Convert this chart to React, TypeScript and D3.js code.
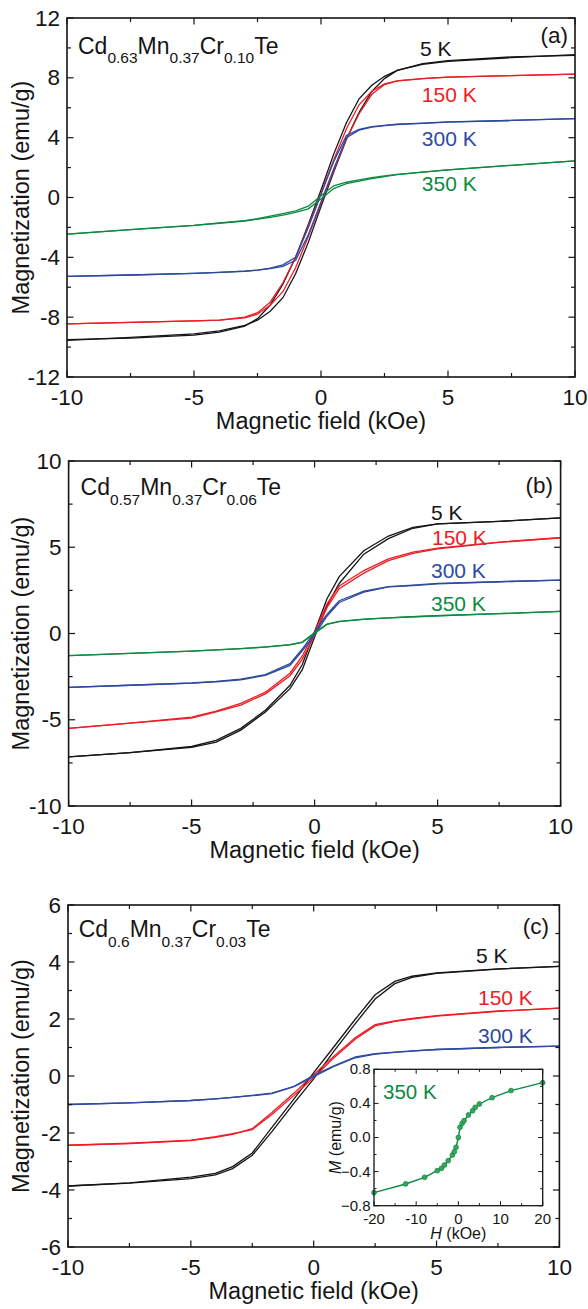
import React from 'react';
import * as d3 from 'd3';

const FONT = '"Liberation Sans", Arial, Helvetica, sans-serif';
const BLACK = '#151515';
const RED = '#ee1c25';
const BLUE = '#2c4aa0';
const GREEN = '#0b8a40';

const tempLabels = ['5 K', '150 K', '300 K', '350 K'];
const xTicks = [-10, -5, 0, 5, 10];
const xMinor = [-7.5, -2.5, 2.5, 7.5];

// (a) Cd0.63Mn0.37Cr0.10Te, field swept from +10 down to -10 kOe
const fieldA = [10, 7.5, 5, 4, 3, 2.5, 2, 1.5, 1, 0.5, 0, -0.5, -1, -1.5, -2, -2.5, -3, -4, -5, -7.5, -10];
const a5Up = [9.55, 9.35, 9.1, 8.9, 8.5, 8.1, 7.5, 6.6, 5.0, 2.9, 0.5, -1.8, -4.0, -5.8, -7.2, -8.1, -8.6, -9.0, -9.2, -9.4, -9.5];
const a5Down = [-9.55, -9.35, -9.12, -8.92, -8.55, -8.2, -7.6, -6.7, -5.1, -3.0, -0.6, 1.7, 3.9, 5.7, 7.1, 7.95, 8.5, 8.95, 9.15, 9.4, 9.5];
const a150Up = [8.25, 8.15, 8.05, 7.95, 7.8, 7.6, 7.1, 6.2, 4.6, 2.5, 0.3, -1.9, -4.0, -5.7, -7.0, -7.7, -8.0, -8.2, -8.25, -8.35, -8.45];
const a150Down = [-8.45, -8.35, -8.25, -8.2, -8.05, -7.8, -7.2, -6.3, -4.7, -2.6, -0.4, 1.8, 3.9, 5.6, 6.9, 7.55, 7.8, 7.95, 8.05, 8.15, 8.25];
const a300Up = [5.27, 5.15, 5.05, 4.97, 4.9, 4.82, 4.74, 4.55, 4.15, 2.4, 0.2, -2.0, -4.0, -4.5, -4.72, -4.85, -4.92, -5.0, -5.07, -5.18, -5.27];
const a300Down = [-5.27, -5.18, -5.07, -5.0, -4.93, -4.86, -4.76, -4.6, -4.2, -2.5, -0.3, 1.9, 4.0, 4.5, 4.7, 4.8, 4.88, 4.96, 5.04, 5.15, 5.27];
const a350Up = [2.45, 2.15, 1.85, 1.7, 1.55, 1.45, 1.33, 1.18, 1.02, 0.78, 0.12, -0.58, -0.9, -1.08, -1.25, -1.42, -1.55, -1.7, -1.87, -2.15, -2.45];
const a350Down = [-2.45, -2.15, -1.87, -1.72, -1.57, -1.45, -1.33, -1.18, -1.0, -0.76, -0.1, 0.6, 0.92, 1.1, 1.26, 1.4, 1.53, 1.7, 1.85, 2.15, 2.45];

// (b) Cd0.57Mn0.37Cr0.06Te
const fieldB = [10, 7.5, 5, 4, 3, 2, 1, 0.5, 0, -0.5, -1, -2, -3, -4, -5, -7.5, -10];
const b5Up = [6.7, 6.5, 6.35, 6.15, 5.65, 4.8, 3.3, 2.0, 0.1, -1.8, -3.0, -4.45, -5.5, -6.2, -6.55, -6.9, -7.15];
const b5Down = [-7.15, -6.9, -6.6, -6.3, -5.6, -4.55, -3.2, -2.1, -0.2, 1.6, 2.9, 4.6, 5.5, 6.1, 6.35, 6.5, 6.7];
const b150Up = [5.55, 5.3, 4.95, 4.72, 4.32, 3.65, 2.75, 1.7, 0.1, -1.3, -2.3, -3.4, -4.05, -4.5, -4.85, -5.2, -5.5];
const b150Down = [-5.5, -5.2, -4.9, -4.55, -4.15, -3.5, -2.45, -1.5, -0.1, 1.5, 2.6, 3.5, 4.22, 4.65, 4.9, 5.28, 5.55];
const b300Up = [3.1, 3.0, 2.9, 2.8, 2.72, 2.45, 1.9, 1.1, 0.1, -0.9, -1.75, -2.38, -2.65, -2.78, -2.87, -3.0, -3.12];
const b300Down = [-3.12, -3.0, -2.88, -2.8, -2.68, -2.43, -1.85, -1.0, -0.1, 1.0, 1.8, 2.4, 2.7, 2.78, 2.88, 3.0, 3.1];
const b350Up = [1.28, 1.15, 1.03, 0.97, 0.9, 0.83, 0.7, 0.55, 0.05, -0.5, -0.65, -0.78, -0.88, -0.95, -1.02, -1.15, -1.28];
const b350Down = [-1.28, -1.15, -1.02, -0.95, -0.88, -0.79, -0.66, -0.52, 0.0, 0.53, 0.69, 0.82, 0.9, 0.97, 1.03, 1.15, 1.28];

// (c) Cd0.6Mn0.37Cr0.03Te
const fieldC = [10, 7.5, 5, 4, 3.3, 2.5, 1.7, 0.8, 0, -0.8, -1.7, -2.5, -3.3, -4, -5, -7.5, -10];
const c5Up = [3.85, 3.76, 3.62, 3.5, 3.32, 2.85, 2.0, 1.0, 0.12, -0.8, -1.8, -2.7, -3.18, -3.42, -3.55, -3.75, -3.86];
const c5Down = [-3.86, -3.76, -3.6, -3.47, -3.25, -2.78, -1.95, -0.95, -0.1, 0.85, 1.85, 2.7, 3.24, 3.46, 3.6, 3.75, 3.85];
const c150Up = [2.38, 2.28, 2.12, 2.02, 1.93, 1.8, 1.35, 0.68, 0.05, -0.6, -1.28, -1.85, -2.05, -2.15, -2.27, -2.37, -2.43];
const c150Down = [-2.43, -2.36, -2.25, -2.13, -2.02, -1.88, -1.35, -0.68, -0.05, 0.62, 1.3, 1.76, 1.92, 2.0, 2.1, 2.27, 2.38];
const c300Up = [1.05, 1.0, 0.93, 0.88, 0.84, 0.78, 0.67, 0.35, 0.02, -0.36, -0.6, -0.68, -0.75, -0.8, -0.86, -0.94, -1.0];
const c300Down = [-1.0, -0.94, -0.86, -0.8, -0.75, -0.69, -0.62, -0.37, -0.02, 0.33, 0.64, 0.77, 0.83, 0.87, 0.93, 1.0, 1.05];

// inset, 350 K for (c)
const insetField = [-20, -12.5, -8, -5, -4, -3.3, -2.4, -1.4, -0.95, -0.55, 0, 0.4, 0.9, 1.35, 2.4, 3.4, 4, 5, 8, 12.5, 20];
const insetM = [-0.647, -0.545, -0.467, -0.389, -0.362, -0.323, -0.272, -0.205, -0.166, -0.115, 0.0, 0.12, 0.166, 0.197, 0.264, 0.314, 0.354, 0.393, 0.467, 0.55, 0.643];
const insetXTicks = [-20, -10, 0, 10, 20];
const insetXMinor = [-15, -5, 5, 15];
const insetYTicks = [-0.8, -0.4, 0, 0.4, 0.8];
const insetYMinor = [-0.6, -0.2, 0.2, 0.6];

type Loop = { color: string; up: number[]; down: number[] };
type Label = { text: string; x: number; y: number; color: string };
type Box = { left: number; right: number; top: number; bottom: number };

function Formula({ x, y, parts }: { x: number; y: number; parts: [string, string][] }) {
  const main = 23;
  const sub = 15.5;
  const shift = 9.5;
  const spans: React.ReactNode[] = [];
  let low = false;
  parts.forEach(([el, idx], i) => {
    spans.push(
      <tspan key={'e' + i} fontSize={main} dy={low ? -shift : 0}>{el}</tspan>
    );
    low = false;
    if (idx) {
      spans.push(
        <tspan key={'s' + i} fontSize={sub} dy={shift}>{idx}</tspan>
      );
      low = true;
    }
  });
  return (
    <text x={x} y={y} fill={BLACK} fontFamily={FONT}>{spans}</text>
  );
}

function Panel(props: {
  box: Box; yDomain: [number, number]; yTicks: number[]; yMinor: number[];
  field: number[]; loops: Loop[]; formula: [string, string][]; fx: number; fy: number;
  letter: string; lx: number; ly: number; labels: Label[];
}) {
  const { box, yDomain, yTicks, yMinor, field, loops } = props;
  const x = d3.scaleLinear().domain([-10, 10]).range([box.left, box.right]);
  const y = d3.scaleLinear().domain(yDomain).range([box.bottom, box.top]);
  const line = d3.line<[number, number]>().x(d => x(d[0])).y(d => y(d[1]));
  const back = field.slice().reverse();
  const maj = 6.5;
  const min = 4;
  const cy = (box.top + box.bottom) / 2;
  const cx = (box.left + box.right) / 2;

  return (
    <g fontFamily={FONT}>
      {loops.map((l, i) => (
        <g key={i} fill="none" stroke={l.color} strokeWidth={1.3}>
          <path d={line(field.map((h, j) => [h, l.up[j]] as [number, number])) || ''} />
          <path d={line(back.map((h, j) => [h, l.down[j]] as [number, number])) || ''} />
        </g>
      ))}
      <g stroke={BLACK} strokeWidth={1.2}>
        {xTicks.map(t => (
          <g key={'xt' + t}>
            <line x1={x(t)} x2={x(t)} y1={box.bottom} y2={box.bottom - maj} />
            <line x1={x(t)} x2={x(t)} y1={box.top} y2={box.top + maj} />
          </g>
        ))}
        {xMinor.map(t => (
          <g key={'xm' + t}>
            <line x1={x(t)} x2={x(t)} y1={box.bottom} y2={box.bottom - min} />
            <line x1={x(t)} x2={x(t)} y1={box.top} y2={box.top + min} />
          </g>
        ))}
        {yTicks.map(t => (
          <g key={'yt' + t}>
            <line x1={box.left} x2={box.left + maj} y1={y(t)} y2={y(t)} />
            <line x1={box.right} x2={box.right - maj} y1={y(t)} y2={y(t)} />
          </g>
        ))}
        {yMinor.map(t => (
          <g key={'ym' + t}>
            <line x1={box.left} x2={box.left + min} y1={y(t)} y2={y(t)} />
            <line x1={box.right} x2={box.right - min} y1={y(t)} y2={y(t)} />
          </g>
        ))}
      </g>
      <rect x={box.left} y={box.top} width={box.right - box.left} height={box.bottom - box.top}
        fill="none" stroke={BLACK} strokeWidth={1.6} />
      <g fontSize={22.5} fill={BLACK}>
        {xTicks.map(t => (
          <text key={'xl' + t} x={x(t)} y={box.bottom + 28} textAnchor="middle">{String(t)}</text>
        ))}
        {yTicks.map(t => (
          <text key={'yl' + t} x={box.left - 7} y={y(t)} dy="0.34em" textAnchor="end">{String(t)}</text>
        ))}
      </g>
      <text x={cx} y={box.bottom + 51.5} textAnchor="middle" fontSize={23.5} fill={BLACK}>
        Magnetic field (kOe)
      </text>
      <text transform={`translate(29,${cy}) rotate(-90)`} textAnchor="middle" fontSize={23.5} fill={BLACK}>
        Magnetization (emu/g)
      </text>
      <Formula x={props.fx} y={props.fy} parts={props.formula} />
      <text x={props.lx} y={props.ly} textAnchor="end" fontSize={22.5} fill={BLACK}>{props.letter}</text>
      {props.labels.map(l => (
        <text key={l.text} x={l.x} y={l.y} fontSize={21} fill={l.color}>{l.text}</text>
      ))}
    </g>
  );
}

function Inset() {
  const box = { left: 374, right: 542.7, top: 1069.3, bottom: 1205.7 };
  const x = d3.scaleLinear().domain([-20, 20]).range([box.left, box.right]);
  const y = d3.scaleLinear().domain([-0.8, 0.8]).range([box.bottom, box.top]);
  const line = d3.line<number>().x((d, i) => x(insetField[i])).y(d => y(d));
  const maj = 4.5;
  const min = 2.5;
  return (
    <g fontFamily={FONT}>
      <rect x={box.left} y={box.top} width={box.right - box.left} height={box.bottom - box.top} fill="#fff" />
      <path d={line(insetM) || ''} fill="none" stroke={GREEN} strokeWidth={1.4} />
      {insetM.map((m, i) => (
        <circle key={i} cx={x(insetField[i])} cy={y(m)} r={2.4} fill="#3aa65c" stroke={GREEN} strokeWidth={0.8} />
      ))}
      <g stroke={BLACK} strokeWidth={1}>
        {insetXTicks.map(t => (
          <g key={'a' + t}>
            <line x1={x(t)} x2={x(t)} y1={box.bottom} y2={box.bottom - maj} />
            <line x1={x(t)} x2={x(t)} y1={box.top} y2={box.top + maj} />
          </g>
        ))}
        {insetXMinor.map(t => (
          <g key={'b' + t}>
            <line x1={x(t)} x2={x(t)} y1={box.bottom} y2={box.bottom - min} />
            <line x1={x(t)} x2={x(t)} y1={box.top} y2={box.top + min} />
          </g>
        ))}
        {insetYTicks.map(t => (
          <g key={'c' + t}>
            <line x1={box.left} x2={box.left + maj} y1={y(t)} y2={y(t)} />
            <line x1={box.right} x2={box.right - maj} y1={y(t)} y2={y(t)} />
          </g>
        ))}
        {insetYMinor.map(t => (
          <g key={'d' + t}>
            <line x1={box.left} x2={box.left + min} y1={y(t)} y2={y(t)} />
            <line x1={box.right} x2={box.right - min} y1={y(t)} y2={y(t)} />
          </g>
        ))}
      </g>
      <rect x={box.left} y={box.top} width={box.right - box.left} height={box.bottom - box.top}
        fill="none" stroke={BLACK} strokeWidth={1.3} />
      <g fontSize={15} fill={BLACK}>
        {insetXTicks.map(t => (
          <text key={'xl' + t} x={x(t)} y={box.bottom + 18} textAnchor="middle">{String(t)}</text>
        ))}
        {insetYTicks.map(t => (
          <text key={'yl' + t} x={box.left - 3.5} y={y(t)} dy="0.33em" textAnchor="end">{d3.format('.1f')(t)}</text>
        ))}
      </g>
      <text x={(box.left + box.right) / 2} y={1238.5} textAnchor="middle" fontSize={16} fill={BLACK}>
        <tspan fontStyle="italic">H</tspan> (kOe)
      </text>
      <text transform={`translate(341,${(box.top + box.bottom) / 2}) rotate(-90)`} textAnchor="middle" fontSize={16} fill={BLACK}>
        <tspan fontStyle="italic">M</tspan> (emu/g)
      </text>
      <text x={383} y={1099} fontSize={20.5} fill={GREEN}>{tempLabels[3]}</text>
    </g>
  );
}

export default function App() {
  return (
    <svg width={588} height={1309} style={{ position: 'absolute', left: 0, top: 0, background: '#fff' }}>
      <Panel
        box={{ left: 67, right: 575, top: 18, bottom: 377 }}
        yDomain={[-12, 12]} yTicks={[-12, -8, -4, 0, 4, 8, 12]} yMinor={[-10, -6, -2, 2, 6, 10]}
        field={fieldA}
        loops={[
          { color: BLACK, up: a5Up, down: a5Down },
          { color: RED, up: a150Up, down: a150Down },
          { color: BLUE, up: a300Up, down: a300Down },
          { color: GREEN, up: a350Up, down: a350Down },
        ]}
        formula={[['Cd', '0.63'], ['Mn', '0.37'], ['Cr', '0.10'], ['Te', '']]} fx={78} fy={53.5}
        letter="(a)" lx={568} ly={43}
        labels={[
          { text: tempLabels[0], x: 420, y: 55.5, color: BLACK },
          { text: tempLabels[1], x: 421.8, y: 102, color: RED },
          { text: tempLabels[2], x: 421.8, y: 146, color: BLUE },
          { text: tempLabels[3], x: 421.8, y: 190.5, color: GREEN },
        ]}
      />
      <Panel
        box={{ left: 68.6, right: 560.6, top: 461, bottom: 806 }}
        yDomain={[-10, 10]} yTicks={[-10, -5, 0, 5, 10]} yMinor={[-7.5, -2.5, 2.5, 7.5]}
        field={fieldB}
        loops={[
          { color: BLACK, up: b5Up, down: b5Down },
          { color: RED, up: b150Up, down: b150Down },
          { color: BLUE, up: b300Up, down: b300Down },
          { color: GREEN, up: b350Up, down: b350Down },
        ]}
        formula={[['Cd', '0.57'], ['Mn', '0.37'], ['Cr', '0.06'], ['Te', '']]} fx={80.6} fy={495}
        letter="(b)" lx={553} ly={492.5}
        labels={[
          { text: tempLabels[0], x: 431, y: 520, color: BLACK },
          { text: tempLabels[1], x: 432, y: 544.5, color: RED },
          { text: tempLabels[2], x: 431, y: 578, color: BLUE },
          { text: tempLabels[3], x: 431, y: 611, color: GREEN },
        ]}
      />
      <Panel
        box={{ left: 68, right: 559.4, top: 905, bottom: 1247 }}
        yDomain={[-6, 6]} yTicks={[-6, -4, -2, 0, 2, 4, 6]} yMinor={[-5, -3, -1, 1, 3, 5]}
        field={fieldC}
        loops={[
          { color: BLACK, up: c5Up, down: c5Down },
          { color: RED, up: c150Up, down: c150Down },
          { color: BLUE, up: c300Up, down: c300Down },
        ]}
        formula={[['Cd', '0.6'], ['Mn', '0.37'], ['Cr', '0.03'], ['Te', '']]} fx={78.7} fy={937.3}
        letter="(c)" lx={549} ly={933.5}
        labels={[
          { text: tempLabels[0], x: 476, y: 963, color: BLACK },
          { text: tempLabels[1], x: 478, y: 1005, color: RED },
          { text: tempLabels[2], x: 478, y: 1043, color: BLUE },
        ]}
      />
      <Inset />
    </svg>
  );
}
